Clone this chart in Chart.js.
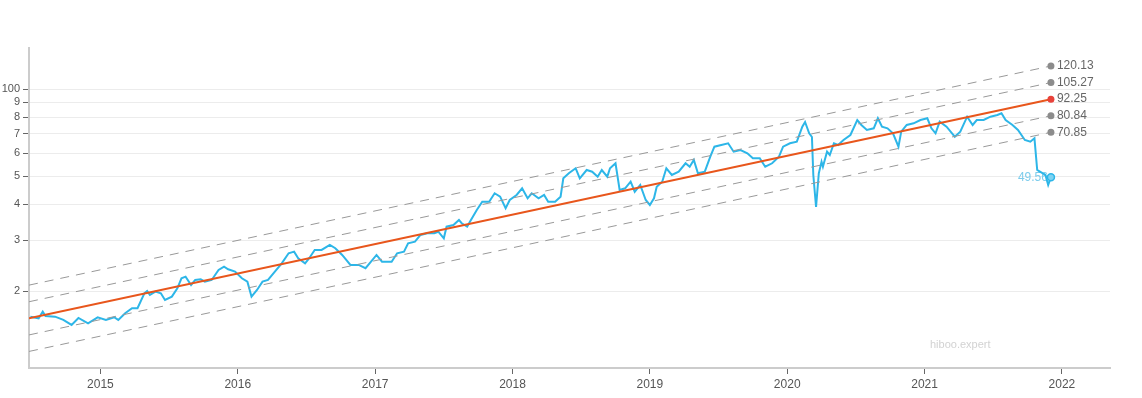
<!DOCTYPE html>
<html>
<head>
<meta charset="utf-8">
<script src="https://cdn.jsdelivr.net/npm/chart.js@4.4.1/dist/chart.umd.min.js"></script>
<style>
  html, body { margin: 0; padding: 0; background: #fff; }
  #wrap { width: 1142px; height: 398px; }
</style>
</head>
<body>
<div id="wrap"><canvas id="chart" width="1142" height="398"></canvas></div>
<script>
// price history, x in decimal years
var years = [2014.49, 2014.55, 2014.58, 2014.60, 2014.67, 2014.73, 2014.79, 2014.84, 2014.91, 2014.98,
  2015.04, 2015.10, 2015.13, 2015.18, 2015.23, 2015.27, 2015.32, 2015.34, 2015.36, 2015.40,
  2015.44, 2015.47, 2015.52, 2015.56, 2015.59, 2015.62, 2015.66, 2015.69, 2015.73, 2015.76,
  2015.81, 2015.86, 2015.90, 2015.93, 2015.98, 2016.03, 2016.07, 2016.10, 2016.14, 2016.18,
  2016.22, 2016.27, 2016.32, 2016.37, 2016.41, 2016.44, 2016.49, 2016.52, 2016.56, 2016.61,
  2016.67, 2016.71, 2016.76, 2016.82, 2016.88, 2016.93, 2016.97, 2017.01, 2017.05, 2017.12,
  2017.16, 2017.21, 2017.24, 2017.29, 2017.33, 2017.38, 2017.43, 2017.46, 2017.50, 2017.52,
  2017.57, 2017.61, 2017.63, 2017.67, 2017.69, 2017.74, 2017.78, 2017.83, 2017.87, 2017.91,
  2017.95, 2017.98, 2018.03, 2018.07, 2018.11, 2018.14, 2018.19, 2018.23, 2018.26, 2018.31,
  2018.35, 2018.37, 2018.41, 2018.46, 2018.49, 2018.54, 2018.58, 2018.62, 2018.65, 2018.69,
  2018.71, 2018.75, 2018.78, 2018.82, 2018.86, 2018.89, 2018.93, 2018.97, 2019.00, 2019.03,
  2019.05, 2019.09, 2019.12, 2019.16, 2019.21, 2019.26, 2019.29, 2019.32, 2019.35, 2019.40,
  2019.44, 2019.47, 2019.52, 2019.57, 2019.61, 2019.66, 2019.71, 2019.75, 2019.80, 2019.84,
  2019.89, 2019.94, 2019.97, 2020.02, 2020.07, 2020.11, 2020.13, 2020.16, 2020.18, 2020.19,
  2020.21, 2020.23, 2020.25, 2020.26, 2020.29, 2020.31, 2020.34, 2020.37, 2020.41, 2020.46,
  2020.51, 2020.54, 2020.58, 2020.63, 2020.66, 2020.69, 2020.73, 2020.77, 2020.81, 2020.83,
  2020.87, 2020.92, 2020.97, 2021.02, 2021.05, 2021.08, 2021.11, 2021.16, 2021.20, 2021.22,
  2021.26, 2021.31, 2021.35, 2021.38, 2021.43, 2021.48, 2021.53, 2021.56, 2021.59, 2021.64,
  2021.68, 2021.73, 2021.77, 2021.80, 2021.82, 2021.84, 2021.88, 2021.90, 2021.92];

var prices = [16.34, 16.13, 17.00, 16.43, 16.34, 15.92, 15.30, 16.17, 15.50, 16.26,
  15.92, 16.26, 15.92, 16.79, 17.47, 17.47, 19.68, 20.05, 19.42, 19.94,
  19.68, 18.66, 19.16, 20.48, 22.18, 22.46, 21.03, 21.88, 22.00, 21.59,
  21.88, 23.69, 24.32, 23.83, 23.38, 22.18, 21.59, 19.16, 20.21, 21.59,
  21.88, 23.38, 24.99, 27.06, 27.41, 26.01, 24.99, 26.01, 27.78, 27.78,
  28.91, 28.16, 26.70, 24.66, 24.66, 24.02, 25.31, 26.70, 25.31, 25.31,
  27.06, 27.41, 29.30, 29.68, 31.30, 31.73, 31.73, 32.13, 30.49, 33.44,
  33.89, 35.27, 34.36, 33.44, 34.80, 38.19, 40.80, 40.80, 43.62, 42.45,
  38.71, 41.35, 43.03, 45.39, 41.92, 43.62, 41.92, 43.03, 40.80, 40.80,
  42.45, 49.15, 51.14, 53.22, 49.15, 52.50, 51.80, 49.78, 52.50, 49.78,
  53.22, 55.38, 44.78, 45.39, 47.83, 44.17, 46.60, 41.35, 39.74, 41.92,
  45.97, 47.83, 53.22, 50.45, 51.80, 55.38, 53.90, 56.85, 51.14, 51.80,
  58.36, 63.20, 64.05, 64.93, 60.73, 61.56, 59.96, 57.62, 57.62, 53.90,
  55.38, 58.36, 63.20, 64.93, 65.76, 74.09, 76.92, 70.31, 68.27, 50.45,
  39.11, 51.14, 56.08, 53.90, 60.73, 59.16, 64.93, 64.05, 66.66, 69.36,
  78.15, 75.11, 72.18, 73.16, 79.22, 74.09, 73.16, 70.31, 63.20, 71.21,
  75.11, 76.12, 78.15, 79.22, 73.16, 70.31, 77.10, 74.09, 70.31, 68.43,
  71.21, 80.24, 75.11, 78.15, 78.15, 80.24, 81.32, 82.43, 78.15, 75.11,
  72.18, 66.66, 65.76, 67.56, 52.50, 51.80, 50.45, 46.60, 49.56];

// regression channel: start / end of each line (top to bottom)
var trendYears = [2014.48, 2021.92];
var bandStart = [21.00, 18.40, 16.13, 14.13, 12.39];
var bandEnd = [120.13, 105.27, 92.25, 80.84, 70.85];

var yearTicks = [2015, 2016, 2017, 2018, 2019, 2020, 2021, 2022];
var valueTicks = [20, 30, 40, 50, 60, 70, 80, 90, 100];

var BLUE = '#2db6e8';
var ORANGE = '#e8561c';
var GREY = '#999999';

var priceData = years.map(function (y, i) { return { x: y, y: prices[i] }; });

var datasets = bandStart.map(function (s, i) {
  var mid = i === 2;
  return {
    data: [{ x: trendYears[0], y: s }, { x: trendYears[1], y: bandEnd[i] }],
    borderColor: mid ? ORANGE : GREY,
    borderWidth: mid ? 2 : 1,
    borderDash: mid ? [] : [9, 7],
    pointRadius: [0, 3.5],
    pointBorderWidth: 0,
    pointBackgroundColor: mid ? '#e8423a' : '#8c8c8c',
    order: mid ? 0 : 1
  };
});
datasets.push({
  data: priceData,
  borderColor: BLUE,
  borderWidth: 2,
  tension: 0,
  pointRadius: priceData.map(function (p, i) { return i === priceData.length - 1 ? 3.5 : 0; }),
  pointBackgroundColor: '#7fd3f2',
  pointBorderColor: BLUE,
  pointBorderWidth: 1.5,
  order: 2
});

var labelPlugin = {
  id: 'labels',
  beforeDatasetsDraw: function (chart) {
    var ctx = chart.ctx, xs = chart.scales.x, ys = chart.scales.y;
    var last = prices.length - 1;
    ctx.save();
    ctx.font = '12px "Liberation Sans", Arial, sans-serif';
    ctx.fillStyle = '#7cccec';
    ctx.textAlign = 'right';
    ctx.textBaseline = 'middle';
    ctx.fillText(prices[last].toFixed(2), xs.getPixelForValue(years[last]) - 3, ys.getPixelForValue(prices[last]));
    ctx.font = '11px "Liberation Sans", Arial, sans-serif';
    ctx.fillStyle = '#d2d2d2';
    ctx.textAlign = 'left';
    ctx.fillText('hiboo.expert', chart.chartArea.right - 180, chart.chartArea.bottom - 23);
    ctx.restore();
  },
  afterDatasetsDraw: function (chart) {
    var ctx = chart.ctx, xs = chart.scales.x, ys = chart.scales.y;
    ctx.save();
    ctx.font = '12px "Liberation Sans", Arial, sans-serif';
    ctx.fillStyle = '#666666';
    ctx.textAlign = 'left';
    ctx.textBaseline = 'middle';
    bandEnd.forEach(function (v) {
      ctx.fillText(v.toFixed(2), xs.getPixelForValue(trendYears[1]) + 6, ys.getPixelForValue(v));
    });
    ctx.restore();
  }
};

new Chart(document.getElementById('chart'), {
  type: 'line',
  data: { datasets: datasets },
  plugins: [labelPlugin],
  options: {
    responsive: false,
    animation: false,
    devicePixelRatio: 1,
    layout: { padding: { top: 48, right: 32, left: 0, bottom: 0 } },
    plugins: { legend: { display: false }, tooltip: { enabled: false } },
    scales: {
      x: {
        type: 'linear',
        min: 2014.48,
        max: 2022.35,
        afterBuildTicks: function (scale) {
          scale.ticks = yearTicks.map(function (v) { return { value: v }; });
        },
        afterFit: function (scale) { scale.height = 30; },
        ticks: {
          color: '#555',
          font: { family: '"Liberation Sans", Arial, sans-serif', size: 12 },
          padding: 3,
          maxRotation: 0,
          callback: function (v) { return String(v); }
        },
        grid: { drawOnChartArea: false, drawTicks: true, tickLength: 6, tickColor: '#666', tickWidth: 1 },
        border: { color: '#cccccc', width: 2 }
      },
      y: {
        type: 'logarithmic',
        min: 10.86,
        max: 138.6,
        afterBuildTicks: function (scale) {
          scale.ticks = valueTicks.map(function (v) { return { value: v }; });
        },
        afterFit: function (scale) { scale.width = 29; },
        ticks: {
          color: '#555',
          font: { family: '"Liberation Sans", Arial, sans-serif', size: 11 },
          padding: 3,
          callback: function (v) { return v === 100 ? '100' : String(v / 10); }
        },
        grid: { color: '#ececec', lineWidth: 1, tickLength: 6, tickColor: '#666', tickWidth: 1 },
        border: { color: '#cccccc', width: 2 }
      }
    }
  }
});
</script>
</body>
</html>
